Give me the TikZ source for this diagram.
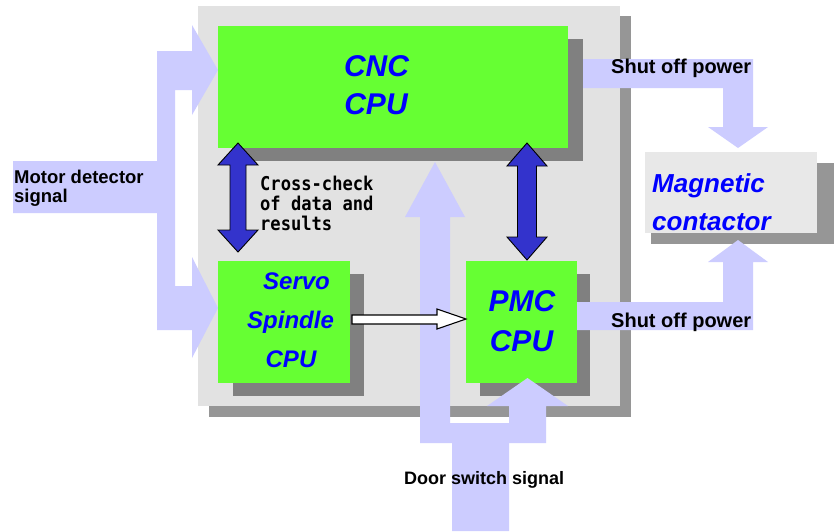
\documentclass[tikz,border=0pt]{standalone}
\usepackage{fontspec}
\setmainfont{Liberation Sans}
\newfontfamily\gothmono{DejaVu Sans Mono}[FakeStretch=0.9]
\definecolor{cpugreen}{HTML}{66FF33}
\definecolor{lav}{HTML}{CCCCFF}
\definecolor{darkshadow}{HTML}{808080}
\definecolor{panelshadow}{HTML}{969696}
\definecolor{panelgray}{HTML}{E2E2E2}
\definecolor{magbox}{HTML}{E8E8E8}
\definecolor{dblue}{HTML}{3333CC}
\definecolor{txtblue}{HTML}{0000FF}
\begin{document}
\begin{tikzpicture}[x=1pt,y=-1pt,
  cpubox/.style={fill=cpugreen, inner sep=0pt, outer sep=0pt},
  shadowbox/.style={fill=darkshadow},
  bigtext/.style={text=txtblue, font=\fontsize{30}{36}\selectfont\bfseries\itshape, inner sep=0pt, anchor=base},
  midtext/.style={text=txtblue, font=\fontsize{24}{29}\selectfont\bfseries\itshape, inner sep=0pt, anchor=base},
  magtext/.style={text=txtblue, font=\fontsize{26}{31}\selectfont\bfseries\itshape, inner sep=0pt, anchor=base west},
  sigtext/.style={text=black, font=\fontsize{20}{24}\selectfont\bfseries, inner sep=0pt, anchor=base west},
  monotext/.style={text=black, font=\fontsize{19}{22}\selectfont\gothmono\bfseries, inner sep=0pt, anchor=base west},
  band/.style={fill=lav, draw=none},
  dblarrow/.style={fill=dblue, draw=black, line width=0.9pt, line join=miter},
  whitearrow/.style={fill=white, draw=black, line width=1.1pt, line join=miter},
]
\useasboundingbox (0,0) rectangle (834,531);
\fill[white] (0,0) rectangle (834,531);
% panel with shadow
\fill[panelshadow] (209,16) rectangle (631,417);
\node[fill=panelgray, minimum width=422pt, minimum height=400pt, inner sep=0pt] (panel) at (409,206) {};
% top shut-off band (behind CNC shadow)
\fill[band] (569,59) -- (753,59) -- (753,127) -- (768,127) -- (738,148) -- (708,127) -- (723,127) -- (723,88) -- (569,88) -- cycle;
% shadows
\fill[shadowbox] (232,39) rectangle (583,161);
\fill[shadowbox] (233,274) rectangle (364,396);
\fill[shadowbox] (480,274) rectangle (590,396);
\fill[panelshadow] (651,163) rectangle (834,244);
% bottom shut-off band
\fill[band] (577,302) -- (723,302) -- (723,262) -- (708,262) -- (738,240) -- (768,262) -- (753,262) -- (753,330) -- (577,330) -- cycle;
% boxes
\node[cpubox, minimum width=350pt, minimum height=122pt] (cnc) at (393,87) {};
\node[cpubox, minimum width=132pt, minimum height=122pt] (servo) at (284,322) {};
\node[cpubox, minimum width=111pt, minimum height=122pt] (pmc) at (521.5,322) {};
\node[fill=magbox, inner sep=0pt, minimum width=172pt, minimum height=81pt] (mag) at (731,192.5) {};
% motor detector signal arrows
\fill[band] (13,161) -- (157,161) -- (157,51) -- (192,51) -- (192,25) -- (218,70) -- (192,115) -- (192,90) -- (175,90) -- (175,286) -- (192,286) -- (192,257) -- (218,308) -- (192,358) -- (192,330) -- (157,330) -- (157,213) -- (13,213) -- cycle;
% door switch signal arrows
\fill[band] (452,531) -- (452,443) -- (420,443) -- (420,217) -- (405,217) -- (435,162) -- (465,217) -- (450,217) -- (450,423) -- (509,423) -- (509,406) -- (487,406) -- (527.5,378) -- (568,406) -- (546,406) -- (546,443) -- (509,443) -- (509,531) -- cycle;
% cross-check double arrows
\draw[dblarrow] (238,143) -- (258,165) -- (246,165) -- (246,230) -- (258,230) -- (238,252) -- (218,230) -- (230,230) -- (230,165) -- (218,165) -- cycle;
\draw[dblarrow] (527,143) -- (547,166) -- (536.5,166) -- (536.5,237) -- (547,237) -- (527,260) -- (507,237) -- (517.5,237) -- (517.5,166) -- (507,166) -- cycle;
% servo -> pmc arrow
\draw[whitearrow] (352,315) -- (437,315) -- (437,309) -- (466,319) -- (437,329) -- (437,324) -- (352,324) -- cycle;
% texts
\node[bigtext] (cnc1) at (376.5,76) {CNC};
\node[bigtext] (cnc2) at (376,114) {CPU};
\node[midtext] (sv1) at (296.5,289) {Servo};
\node[midtext] (sv2) at (290.5,328) {Spindle};
\node[midtext] (sv3) at (291,367) {CPU};
\node[bigtext] (pm1) at (522,311) {PMC};
\node[bigtext] (pm2) at (521.5,351) {CPU};
\node[magtext] (mg1) at (652,192) {Magnetic};
\node[magtext] (mg2) at (652,230) {contactor};
\node[sigtext, font=\fontsize{18.5}{22}\selectfont\bfseries] (md1) at (14,183) {Motor detector};
\node[sigtext, font=\fontsize{18.5}{22}\selectfont\bfseries] (md2) at (14,202) {signal};
\node[sigtext] (so1) at (611,73) {Shut off power};
\node[sigtext] (so2) at (611,327) {Shut off power};
\node[sigtext, font=\fontsize{18}{22}\selectfont\bfseries] (door) at (404,484) {Door switch signal};
\node[monotext] (cc1) at (260,190) {Cross-check};
\node[monotext] (cc2) at (260,210) {of data and};
\node[monotext] (cc3) at (260,230) {results};
\end{tikzpicture}
\end{document}
